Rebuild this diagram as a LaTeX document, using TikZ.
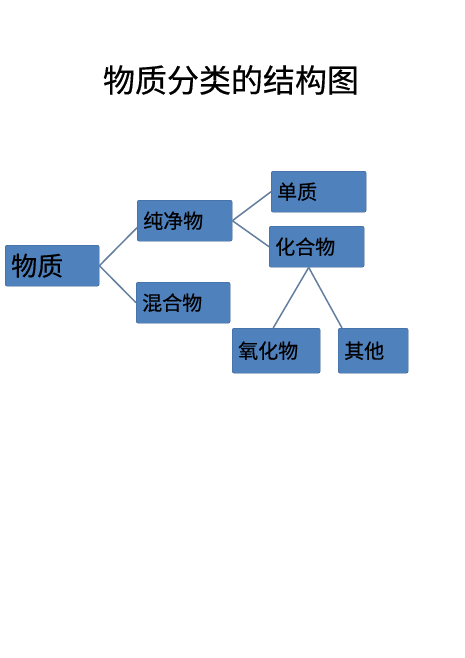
\documentclass[tikz,border=0pt]{standalone}
\usepackage{fontspec}
\newfontfamily\cjk[FakeBold=0.4]{Noto Sans CJK SC}
\usetikzlibrary{positioning}
\definecolor{boxblue}{RGB}{79,129,189}
\definecolor{boxedge}{RGB}{56,93,138}
\definecolor{linkgray}{RGB}{100,126,158}
\tikzset{
  basic/.style = {
      draw=boxedge,
      fill=boxblue,
      rounded corners=2pt,
      anchor=north west,
      align=left,
      inner xsep=6pt,
      minimum height=41pt,
      text=black,
      font=\cjk\fontsize{20}{24}\selectfont
  },
  big/.style = {
      basic,
      font=\cjk\fontsize{26}{30}\selectfont
  },
  tall/.style = {
      basic,
      minimum height=45pt
  },
  heading/.style = {
      font=\cjk\fontsize{32}{38}\selectfont
  },
  link/.style = {
      draw=linkgray,
      line width=1.5pt
  }
}
\begin{document}
\begin{tikzpicture}[x=1pt, y=-1pt]
    \useasboundingbox (0,0) rectangle (465,658);
    % Title
    \node[heading] (title) at (231,80) {物质分类的结构图};
    % Nodes
    \node[big, text width=82pt] (matter) at (5,245) {物质};
    \node[basic, text width=83pt] (pure) at (137,200) {纯净物};
    \node[basic, text width=82pt] (mixture) at (136,282) {混合物};
    \node[basic, text width=83pt] (element) at (271,171) {单质};
    \node[basic, text width=83pt] (compound) at (269,226) {化合物};
    \node[tall, text width=76pt] (oxide) at (232,328) {氧化物};
    \node[tall, text width=58pt] (other) at (338,328) {其他};
    % Edges
    \path[link]
    (matter.east) -- ([yshift=-7pt]pure.west)
    (matter.east) -- (mixture.west)
    (pure.east) -- (element.west)
    (pure.east) -- (compound.west)
    ([xshift=-8pt]compound.south) -- ([xshift=-3pt]oxide.north)
    ([xshift=-8pt]compound.south) -- ([xshift=4pt]other.north west);
\end{tikzpicture}
\end{document}
